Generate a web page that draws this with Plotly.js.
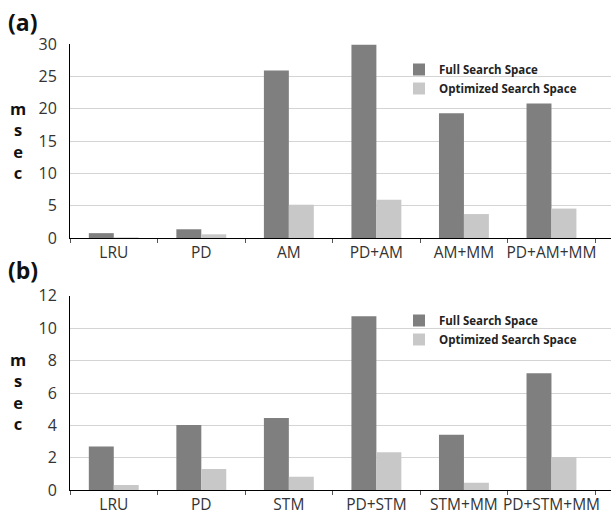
<!DOCTYPE html>
<html>
<head>
<meta charset="utf-8">
<script src="https://cdn.plot.ly/plotly-3.0.1.min.js"></script>
<style>html,body{margin:0;padding:0;background:#fff;}#chart{width:611px;height:519px;}</style>
</head>
<body>
<div id="chart"></div>
<script>
// Panel (a)
const catsA = ["LRU", "PD", "AM", "PD+AM", "AM+MM", "PD+AM+MM"];
const fullA = [0.75, 1.35, 25.9, 29.9, 19.3, 20.8];
const optA  = [0.1, 0.57, 5.15, 5.9, 3.7, 4.55];
// Panel (b)
const catsB = ["LRU", "PD", "STM", "PD+STM", "STM+MM", "PD+STM+MM"];
const fullB = [2.7, 4.03, 4.46, 10.74, 3.42, 7.22];
const optB  = [0.33, 1.31, 0.84, 2.35, 0.47, 2.06];
const seriesNames = ["Full Search Space", "Optimized Search Space"];
const yTicksA = [0, 5, 10, 15, 20, 25, 30];
const yTicksB = [0, 2, 4, 6, 8, 10, 12];

const DARK = "#7f7f7f", LIGHT = "#c8c8c8";
const FONT = "'Open Sans', sans-serif";

const traces = [
  {type:"bar", x:catsA, y:fullA, name:seriesNames[0], marker:{color:DARK}, xaxis:"x", yaxis:"y", legend:"legend"},
  {type:"bar", x:catsA, y:optA, name:seriesNames[1], marker:{color:LIGHT}, xaxis:"x", yaxis:"y", legend:"legend"},
  {type:"bar", x:catsB, y:fullB, name:seriesNames[0], marker:{color:DARK}, xaxis:"x2", yaxis:"y2", legend:"legend2"},
  {type:"bar", x:catsB, y:optB, name:seriesNames[1], marker:{color:LIGHT}, xaxis:"x2", yaxis:"y2", legend:"legend2"}
];

const H = 519, W = 541;
const xr = [-0.5, 5.68];
const xaxisCommon = {
  type:"category", range:xr, showline:true, linecolor:"#000", linewidth:1,
  ticks:"outside", tickson:"boundaries", ticklen:4, tickcolor:"#555", tickangle:0, ticklabelstandoff:0,
  tickfont:{family:FONT, size:15.5, color:"#333"}, showgrid:false, fixedrange:true
};
const yaxisCommon = {
  showline:true, linecolor:"#000", linewidth:1, showgrid:true, gridcolor:"#d4d4d4",
  ticks:"", ticklabelstandoff:9, tickfont:{family:FONT, size:16, color:"#333"}, zeroline:false, fixedrange:true
};
const legendCommon = {
  font:{family:FONT, size:11.5, color:"#222", weight:"bold"}, bgcolor:"rgba(0,0,0,0)",
  tracegroupgap:0, itemwidth:30, xanchor:"left", yanchor:"top"
};

const layout = {
  width:611, height:519,
  margin:{l:70, r:0, t:0, b:0},
  paper_bgcolor:"#fff", plot_bgcolor:"#fff",
  barmode:"group", bargap:0.43, bargroupgap:0,
  showlegend:true,
  xaxis:Object.assign({}, xaxisCommon, {anchor:"y", domain:[0,1]}),
  yaxis:Object.assign({}, yaxisCommon, {anchor:"x", domain:[1-238/H, 1-44/H], range:[0,30], tickvals:yTicksA}),
  xaxis2:Object.assign({}, xaxisCommon, {anchor:"y2", domain:[0,1]}),
  yaxis2:Object.assign({}, yaxisCommon, {anchor:"x2", domain:[1-490.3/H, 1-295.7/H], range:[0,12], tickvals:yTicksB}),
  legend:Object.assign({}, legendCommon, {x:(399-70)/W, y:1-55/H}),
  legend2:Object.assign({}, legendCommon, {x:(399-70)/W, y:1-306/H}),
  annotations:[
    {text:"<b>(a)</b>", xref:"paper", yref:"paper", x:-64/W, y:1-22/H, xanchor:"left", yanchor:"middle", showarrow:false, font:{family:FONT, size:23, color:"#111"}},
    {text:"<b>(b)</b>", xref:"paper", yref:"paper", x:-64/W, y:1-270/H, xanchor:"left", yanchor:"middle", showarrow:false, font:{family:FONT, size:23, color:"#111"}},
    {text:"<b>m<br>s<br>e<br>c</b>", xref:"paper", yref:"paper", x:-52/W, y:1-140/H, xanchor:"center", yanchor:"middle", showarrow:false, font:{family:FONT, size:16.5, color:"#111"}},
    {text:"<b>m<br>s<br>e<br>c</b>", xref:"paper", yref:"paper", x:-52/W, y:1-391/H, xanchor:"center", yanchor:"middle", showarrow:false, font:{family:FONT, size:16.5, color:"#111"}}
  ]
};

Plotly.newPlot("chart", traces, layout, {displayModeBar:false, staticPlot:true});
</script>
</body>
</html>
